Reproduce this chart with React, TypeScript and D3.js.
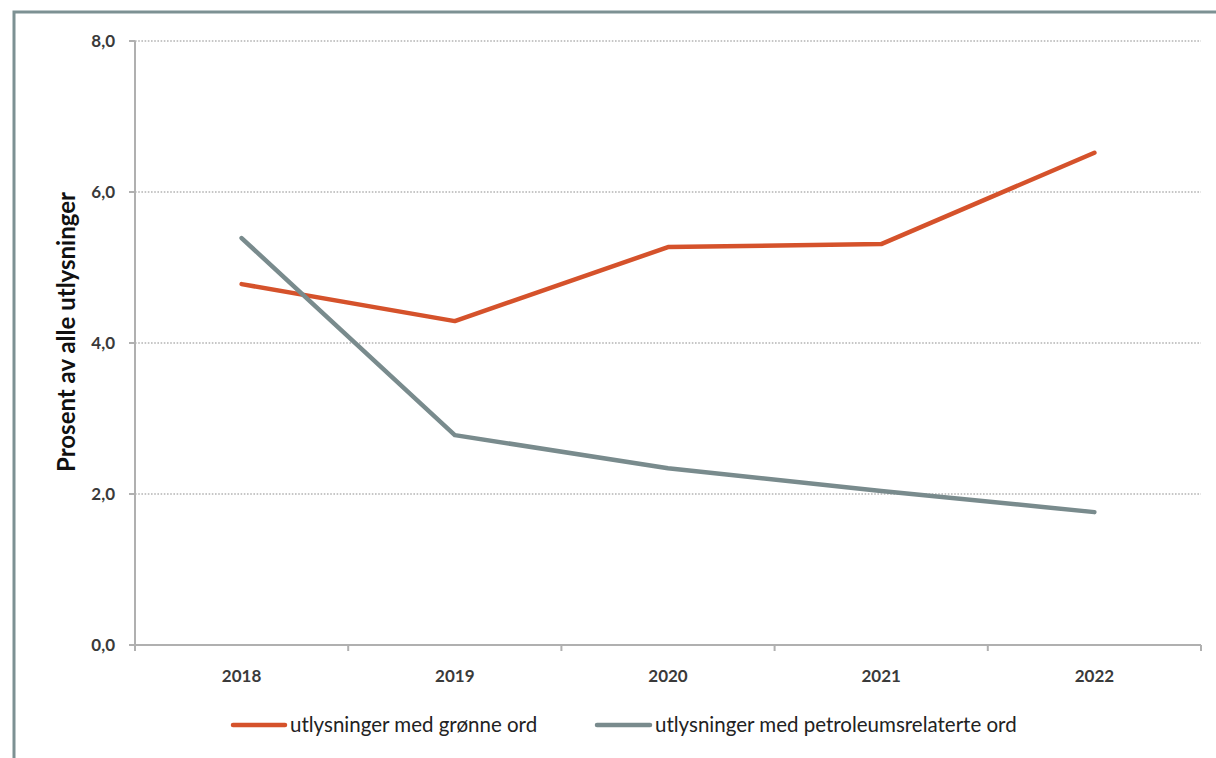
import React from "react";
import * as d3 from "d3";

const years = ["2018", "2019", "2020", "2021", "2022"];
const greenWords = [4.78, 4.29, 5.27, 5.31, 6.52];
const petroleumWords = [5.39, 2.78, 2.34, 2.04, 1.76];
const yTicks = [0, 2, 4, 6, 8];
const seriesNames = [
  "utlysninger med grønne ord",
  "utlysninger med petroleumsrelaterte ord",
];
const seriesColors = ["#d5522b", "#798b8d"];

const W = 1216;
const H = 758;
const plot = { left: 135, right: 1201, top: 41, bottom: 645 };
const font = "Lato, 'Open Sans', sans-serif";

export default function App() {
  const x = d3
    .scaleBand<string>()
    .domain(years)
    .range([plot.left, plot.right]);
  const y = d3.scaleLinear().domain([0, 8]).range([plot.bottom, plot.top]);
  const fmt = (v: number) => v.toFixed(1).replace(".", ",");
  const line = d3
    .line<number>()
    .x((_, i) => (x(years[i]) as number) + x.bandwidth() / 2)
    .y((d) => y(d));
  const series = [greenWords, petroleumWords];
  const boundaries = years.map((yr) => x(yr) as number).concat([plot.right]);

  return (
    <svg
      width={W}
      height={H}
      style={{ position: "absolute", left: 0, top: 0, background: "#fff" }}
    >
      {/* frame */}
      <rect
        x={14}
        y={12}
        width={W}
        height={H}
        fill="none"
        stroke="#7d9193"
        strokeWidth={3}
      />
      {/* gridlines */}
      {yTicks
        .filter((t) => t > 0)
        .map((t) => (
          <line
            key={"g" + t}
            x1={plot.left}
            x2={plot.right}
            y1={y(t)}
            y2={y(t)}
            stroke="#b4b4b4"
            strokeWidth={1.6}
            strokeDasharray="1.6,1.6"
          />
        ))}
      {/* y axis */}
      <line
        x1={plot.left}
        x2={plot.left}
        y1={plot.top}
        y2={plot.bottom + 6}
        stroke="#b0b0b0"
        strokeWidth={2}
      />
      {yTicks.map((t) => (
        <g key={"yt" + t}>
          <line
            x1={plot.left - 6}
            x2={plot.left}
            y1={y(t)}
            y2={y(t)}
            stroke="#b0b0b0"
            strokeWidth={2}
          />
          <text
            x={115}
            y={y(t)}
            dy="0.35em"
            textAnchor="end"
            fontFamily={font}
            fontWeight={700}
            fontSize={17}
            fill="#3a3a3a"
          >
            {fmt(t)}
          </text>
        </g>
      ))}
      {/* x axis */}
      <line
        x1={plot.left - 6}
        x2={plot.right}
        y1={plot.bottom}
        y2={plot.bottom}
        stroke="#b0b0b0"
        strokeWidth={2}
      />
      {boundaries.map((b, i) => (
        <line
          key={"xt" + i}
          x1={b}
          x2={b}
          y1={plot.bottom}
          y2={plot.bottom + 6}
          stroke="#b0b0b0"
          strokeWidth={2}
        />
      ))}
      {years.map((yr) => (
        <text
          key={yr}
          x={(x(yr) as number) + x.bandwidth() / 2}
          y={676}
          dy="0.35em"
          textAnchor="middle"
          fontFamily={font}
          fontWeight={700}
          fontSize={17}
          fill="#3a3a3a"
        >
          {yr}
        </text>
      ))}
      {/* y axis title */}
      <text
        transform={`translate(67,332) rotate(-90)`}
        dy="0.35em"
        textAnchor="middle"
        fontFamily={font}
        fontWeight={700}
        fontSize={24}
        fill="#111"
      >
        Prosent av alle utlysninger
      </text>
      {/* series */}
      {series.map((s, i) => (
        <path
          key={"s" + i}
          d={line(s) as string}
          fill="none"
          stroke={seriesColors[i]}
          strokeWidth={4.5}
          strokeLinecap="round"
          strokeLinejoin="round"
        />
      ))}
      {/* legend */}
      {[
        { x1: 233, x2: 285, tx: 290 },
        { x1: 597, x2: 650, tx: 655 },
      ].map((l, i) => (
        <g key={"lg" + i}>
          <line
            x1={l.x1}
            x2={l.x2}
            y1={725}
            y2={725}
            stroke={seriesColors[i]}
            strokeWidth={4.5}
            strokeLinecap="round"
          />
          <text
            x={l.tx}
            y={725}
            dy="0.35em"
            fontFamily={font}
            fontSize={20.5}
            fill="#222"
          >
            {seriesNames[i]}
          </text>
        </g>
      ))}
    </svg>
  );
}
